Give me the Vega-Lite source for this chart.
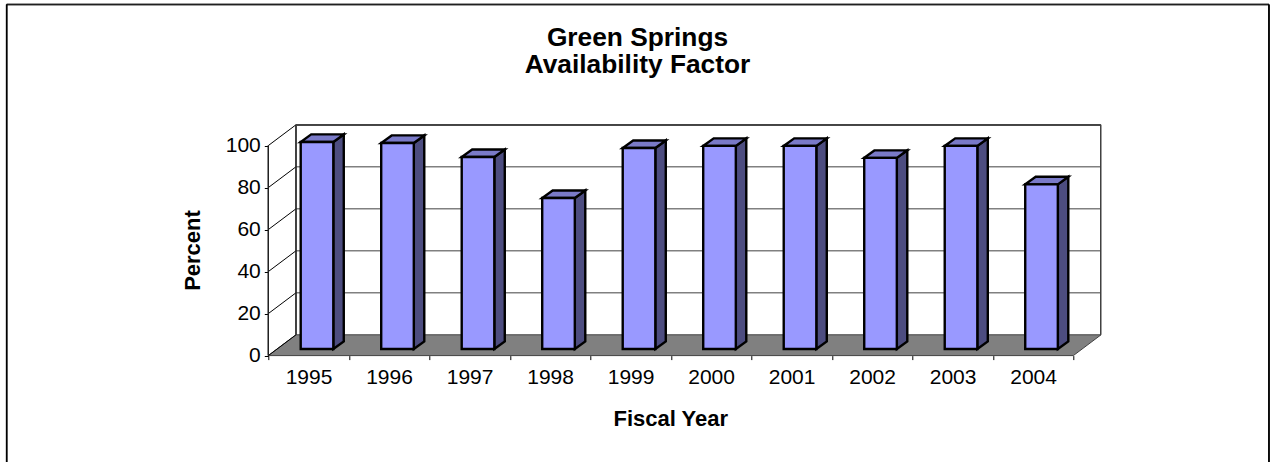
{
"$schema":"https://vega.github.io/schema/vega-lite/v6.json",
"autosize":{"type":"none"},
"padding":{"left":268.3,"top":125,"right":169.3,"bottom":106.4},
"width":832.4,"height":230.6,
"background":"white",
"config":{"view":{"stroke":null},"font":"Liberation Sans"},
"title":{"text":["Green Springs","Availability Factor"],"font":"Liberation Sans","fontSize":26.3,"fontWeight":"bold","color":"black","anchor":"middle","frame":"group","dx":-47,"offset":-75,"lineHeight":27},
"resolve":{"axis":{"x":"independent","y":"independent"}},
"datasets":{
"bars":[{"year":1995,"value":98.6},{"year":1996,"value":98.1},{"year":1997,"value":91.4},{"year":1998,"value":71.9},{"year":1999,"value":95.7},{"year":2000,"value":96.7},{"year":2001,"value":96.7},{"year":2002,"value":91.0},{"year":2003,"value":96.7},{"year":2004,"value":78.4}],
"ticks":[{"tick":0},{"tick":20},{"tick":40},{"tick":60},{"tick":80},{"tick":100}],
"depth":[{"t":0},{"t":1}]
},
"data":{"name":"bars"},
"layer":[
{"data":{"name":"depth"},"transform":[{"calculate":"1994.5+datum.t*0.344","as":"a"},{"calculate":"2004.5+datum.t*0.344","as":"b"},{"calculate":"datum.t*9.9","as":"c"}],
 "mark":{"type":"area","orient":"horizontal","fill":"#808080","stroke":"#404040","strokeWidth":1},
 "encoding":{"x":{"field":"a","type":"quantitative","scale":{"domain":[1994.5,2004.84],"nice":false,"zero":false},"axis":{"orient":"bottom","values":[1994.5,1995.5,1996.5,1997.5,1998.5,1999.5,2000.5,2001.5,2002.5,2003.5,2004.5],"labelExpr":"datum.value>2004 ? '' : format(datum.value+0.5,'d')","labelOffset":40.25,"labelBound":false,"labelFlush":false,"labelOverlap":false,"grid":false,"domain":false,"tickSize":4,"tickColor":"black","labelColor":"black","labelFont":"Liberation Sans","labelFontSize":21,"labelPadding":7,"title":"Fiscal Year","titleFont":"Liberation Sans","titleFontSize":22,"titleFontWeight":"bold","titleColor":"black","titleX":402,"titleY":53,"titleAnchor":"middle"}},
 "x2":{"field":"b"},
 "y":{"field":"c","type":"quantitative","scale":{"domain":[0,109.8],"nice":false,"zero":false},"axis":{"orient":"left","values":[0,20,40,60,80,100],"grid":false,"domain":false,"tickSize":4,"tickColor":"black","labelColor":"black","labelFont":"Liberation Sans","labelFontSize":21,"labelPadding":4,"format":"d","title":"Percent","titleFont":"Liberation Sans","titleFontSize":22,"titleFontWeight":"bold","titleColor":"black","titleX":-64,"titleY":125,"titleAnchor":"middle"}}}},
{"data":{"name":"ticks"},"transform":[{"filter":"datum.tick>0"},{"calculate":"datum.tick+9.9","as":"g"}],
 "mark":{"type":"rule","color":"#808080","strokeWidth":1.5},
 "encoding":{"x":{"datum":1994.844,"scale":{"domain":[1994.5,2004.84],"nice":false,"zero":false},"axis":null},"x2":{"datum":2004.84},"y":{"field":"g","type":"quantitative","scale":{"domain":[0,109.8],"nice":false,"zero":false},"axis":null}}},
{"data":{"name":"ticks"},"transform":[{"calculate":"datum.tick+9.9","as":"g"}],
 "mark":{"type":"rule","color":"black","strokeWidth":1},
 "encoding":{"x":{"datum":1994.5,"scale":{"domain":[1994.5,2004.84],"nice":false,"zero":false},"axis":null},"x2":{"datum":1994.844},"y":{"field":"tick","type":"quantitative","scale":{"domain":[0,109.8],"nice":false,"zero":false},"axis":null},"y2":{"field":"g"}}},
{"data":{"name":"depth"},"mark":{"type":"rule","color":"#202020","strokeWidth":1.2},
 "encoding":{"x":{"datum":1994.5,"scale":{"domain":[1994.5,2004.84],"nice":false,"zero":false},"axis":null},"y":{"datum":0,"scale":{"domain":[0,109.8],"nice":false,"zero":false},"axis":null},"y2":{"datum":100}}},
{"data":{"name":"depth"},"mark":{"type":"rule","color":"#202020","strokeWidth":1.2},
 "encoding":{"x":{"datum":1994.844,"scale":{"domain":[1994.5,2004.84],"nice":false,"zero":false},"axis":null},"y":{"datum":9.9,"scale":{"domain":[0,109.8],"nice":false,"zero":false},"axis":null},"y2":{"datum":109.9}}},
{"data":{"name":"depth"},"mark":{"type":"rule","color":"#404040","strokeWidth":1.2},
 "encoding":{"x":{"datum":2004.84,"scale":{"domain":[1994.5,2004.84],"nice":false,"zero":false},"axis":null},"y":{"datum":9.9,"scale":{"domain":[0,109.8],"nice":false,"zero":false},"axis":null},"y2":{"datum":109.9}}},
{"data":{"name":"depth"},"mark":{"type":"rule","color":"#404040","strokeWidth":1.5},
 "encoding":{"x":{"datum":1994.844,"scale":{"domain":[1994.5,2004.84],"nice":false,"zero":false},"axis":null},"x2":{"datum":2004.84},"y":{"datum":109.8,"scale":{"domain":[0,109.8],"nice":false,"zero":false},"axis":null}}},
{"data":{"name":"depth"},"mark":{"type":"rule","color":"#202020","strokeWidth":1.5},
 "encoding":{"x":{"datum":1991.25,"scale":{"domain":[1994.5,2004.84],"nice":false,"zero":false},"axis":null},"x2":{"datum":2006.93},"y":{"datum":167.2,"scale":{"domain":[0,109.8],"nice":false,"zero":false},"axis":null}}},
{"data":{"name":"depth"},"mark":{"type":"rule","color":"black","strokeWidth":1.5},
 "encoding":{"x":{"datum":1991.25,"scale":{"domain":[1994.5,2004.84],"nice":false,"zero":false},"axis":null},"y":{"datum":167.2,"scale":{"domain":[0,109.8],"nice":false,"zero":false},"axis":null},"y2":{"datum":-50.7}}},
{"data":{"name":"depth"},"mark":{"type":"rule","color":"black","strokeWidth":1.5},
 "encoding":{"x":{"datum":2006.93,"scale":{"domain":[1994.5,2004.84],"nice":false,"zero":false},"axis":null},"y":{"datum":167.2,"scale":{"domain":[0,109.8],"nice":false,"zero":false},"axis":null},"y2":{"datum":-50.7}}},
{"transform":[{"calculate":"[0,1]","as":"t"},{"flatten":["t"]},{"calculate":"datum.year+0.3075+datum.t*0.13","as":"px"},{"calculate":"3.14+datum.t*3.6","as":"lo"},{"calculate":"datum.value+3.14+datum.t*3.6","as":"hi"}],
 "mark":{"type":"area","orient":"vertical","fill":"#4D4D80","stroke":"black","strokeWidth":2.4,"strokeJoin":"miter"},
 "encoding":{"detail":{"field":"year","type":"nominal"},"x":{"field":"px","type":"quantitative","scale":{"domain":[1994.5,2004.84],"nice":false,"zero":false},"axis":null},"y":{"field":"lo","type":"quantitative","scale":{"domain":[0,109.8],"nice":false,"zero":false},"axis":null},"y2":{"field":"hi"}}},
{"transform":[{"calculate":"[0,1]","as":"t"},{"flatten":["t"]},{"calculate":"datum.year-0.0975+datum.t*0.13","as":"l"},{"calculate":"datum.year+0.3075+datum.t*0.13","as":"r"},{"calculate":"datum.value+3.14+datum.t*3.6","as":"hi"}],
 "mark":{"type":"area","orient":"horizontal","fill":"#7A7AC8","stroke":"black","strokeWidth":2.4,"strokeJoin":"miter"},
 "encoding":{"detail":{"field":"year","type":"nominal"},"x":{"field":"l","type":"quantitative","scale":{"domain":[1994.5,2004.84],"nice":false,"zero":false},"axis":null},"x2":{"field":"r"},"y":{"field":"hi","type":"quantitative","scale":{"domain":[0,109.8],"nice":false,"zero":false},"axis":null}}},
{"transform":[{"calculate":"datum.year-0.0975","as":"l"},{"calculate":"datum.year+0.3075","as":"r"},{"calculate":"3.14","as":"lo"},{"calculate":"datum.value+3.14","as":"hi"}],
 "mark":{"type":"rect","fill":"#9999FF","stroke":"black","strokeWidth":2.4},
 "encoding":{"x":{"field":"l","type":"quantitative","scale":{"domain":[1994.5,2004.84],"nice":false,"zero":false},"axis":null},"x2":{"field":"r"},"y":{"field":"lo","type":"quantitative","scale":{"domain":[0,109.8],"nice":false,"zero":false},"axis":null},"y2":{"field":"hi"}}}
]
}
